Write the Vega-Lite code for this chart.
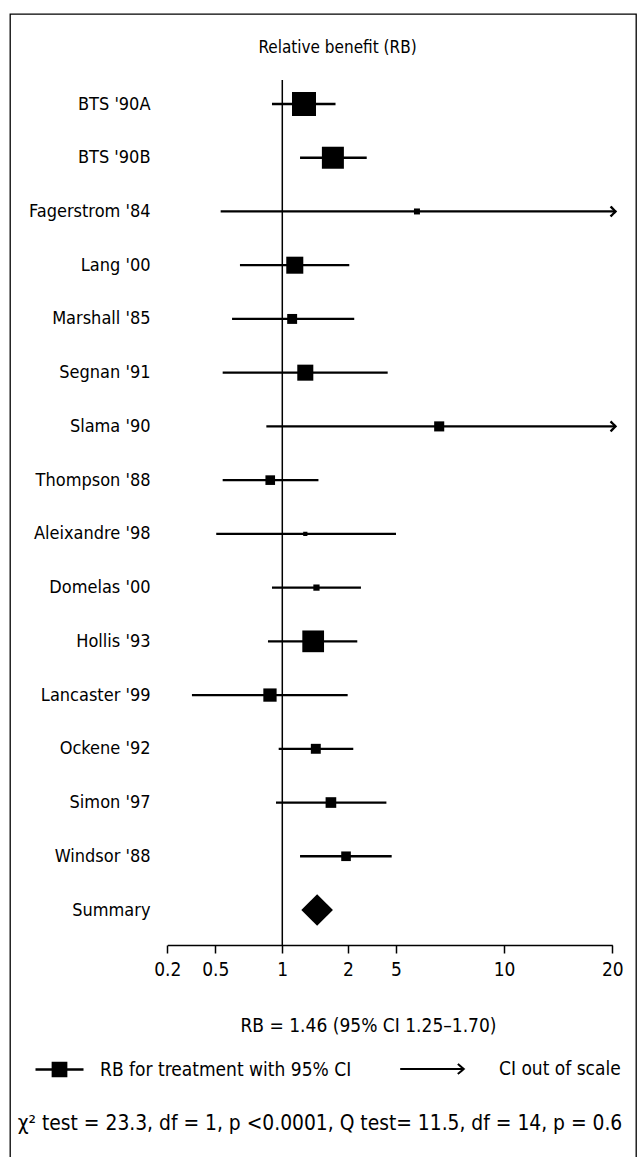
{
  "$schema": "https://vega.github.io/schema/vega-lite/v6.json",
  "width": 626,
  "height": 1144,
  "autosize": "none",
  "padding": {"left": 10, "top": 14, "right": 3, "bottom": -1},
  "background": "#ffffff",
  "config": {
    "font": "Liberation Sans Narrow, DejaVu Sans Condensed, sans-serif",
    "view": {"stroke": "#000000", "strokeWidth": 1.3},
    "axis": {"labelColor": "#000000", "titleColor": "#000000", "titleFontWeight": "normal", "grid": false},
    "legend": {"labelColor": "#000000", "labelLimit": 500}
  },
  "title": {
    "text": "χ² test = 23.3, df = 1, p <0.0001, Q test= 11.5, df = 14, p = 0.6",
    "orient": "bottom",
    "offset": -44,
    "fontSize": 20.8,
    "fontWeight": "normal",
    "color": "#000000",
    "anchor": "middle",
    "dx": -3
  },
  "datasets": {
    "studies": [
      {"study": "BTS '90A", "lo": 0.923, "rb": 1.33, "hi": 1.81, "weight": 19.3},
      {"study": "BTS '90B", "lo": 1.27, "rb": 1.77, "hi": 3.17, "weight": 16.2},
      {"study": "Fagerstrom '84", "lo": 0.54, "rb": 5.97, "hi": 20.3, "weight": 1.2},
      {"study": "Lang '00", "lo": 0.684, "rb": 1.19, "hi": 2.08, "weight": 9.7},
      {"study": "Marshall '85", "lo": 0.625, "rb": 1.15, "hi": 2.39, "weight": 3.3},
      {"study": "Segnan '91", "lo": 0.555, "rb": 1.35, "hi": 4.48, "weight": 8.6},
      {"study": "Slama '90", "lo": 0.881, "rb": 7.0, "hi": 20.3, "weight": 3.4},
      {"study": "Thompson '88", "lo": 0.555, "rb": 0.91, "hi": 1.55, "weight": 3.1},
      {"study": "Aleixandre '98", "lo": 0.507, "rb": 1.35, "hi": 5.0, "weight": 0.6},
      {"study": "Domelas '00", "lo": 0.923, "rb": 1.52, "hi": 2.81, "weight": 1.3},
      {"study": "Hollis '93", "lo": 0.893, "rb": 1.47, "hi": 2.58, "weight": 15.8},
      {"study": "Lancaster '99", "lo": 0.354, "rb": 0.908, "hi": 1.995, "weight": 5.9},
      {"study": "Ockene '92", "lo": 0.973, "rb": 1.51, "hi": 2.33, "weight": 3.3},
      {"study": "Simon '97", "lo": 0.953, "rb": 1.74, "hi": 4.4, "weight": 3.8},
      {"study": "Windsor '88", "lo": 1.27, "rb": 1.97, "hi": 4.73, "weight": 3.1}
    ],
    "summary": [
      {"study": "Summary", "rb": 1.53}
    ]
  },
  "layer": [
    {
      "data": {"name": "studies"},
      "mark": {"type": "rule", "color": "#000000", "strokeWidth": 2.3},
      "encoding": {
        "x": {
          "field": "lo",
          "type": "quantitative",
          "scale": {
            "type": "linear",
            "domain": [0.2, 0.5, 1, 2, 5, 10, 20],
            "range": [157.3, 205.3, 272.3, 338, 386, 494, 602.3],
            "zero": false,
            "nice": false
          },
          "axis": {
            "orient": "bottom",
            "offset": -213,
            "values": [0.2, 0.5, 1, 2, 5, 10, 20],
            "format": "~g",
            "domainColor": "#000000",
            "domainWidth": 1.5,
            "tickColor": "#000000",
            "tickWidth": 1.5,
            "tickSize": 8,
            "labelFontSize": 19,
            "labelPadding": 7,
            "labelFlush": false,
            "labelOverlap": false,
            "title": "RB = 1.46 (95% CI 1.25–1.70)",
            "titleFontSize": 19,
            "titleX": 358,
            "titleY": 80,
            "titleAlign": "center",
            "titleBaseline": "middle"
          }
        },
        "x2": {"field": "hi"},
        "y": {
          "field": "study",
          "type": "nominal",
          "sort": null,
          "scale": {
            "type": "point",
            "domain": ["BTS '90A", "BTS '90B", "Fagerstrom '84", "Lang '00", "Marshall '85", "Segnan '91", "Slama '90", "Thompson '88", "Aleixandre '98", "Domelas '00", "Hollis '93", "Lancaster '99", "Ockene '92", "Simon '97", "Windsor '88", "Summary"],
            "range": [90, 896],
            "padding": 0
          },
          "axis": {
            "orient": "left",
            "offset": -140,
            "domain": false,
            "ticks": false,
            "tickSize": 0,
            "labelPadding": 0,
            "labelFontSize": 18,
            "labelAlign": "right",
            "labelBaseline": "middle",
            "labelLimit": 300,
            "title": "Relative benefit (RB)",
            "titleAngle": 0,
            "titleX": 187,
            "titleY": 33,
            "titleAlign": "center",
            "titleBaseline": "middle",
            "titleFontSize": 17
          }
        }
      }
    },
    {
      "data": {"name": "summary"},
      "mark": {"type": "rule", "color": "#000000", "strokeWidth": 1.5, "yOffset": -24, "y2Offset": 35},
      "encoding": {
        "x": {"datum": 1, "type": "quantitative"},
        "y": {"datum": "BTS '90A", "type": "nominal"},
        "y2": {"datum": "Summary"}
      }
    },
    {
      "data": {"name": "studies"},
      "mark": {"type": "point", "shape": "square", "filled": true, "opacity": 1, "strokeWidth": 0},
      "encoding": {
        "x": {"field": "rb", "type": "quantitative"},
        "y": {"field": "study", "type": "nominal"},
        "size": {
          "field": "weight",
          "type": "quantitative",
          "scale": {"type": "linear", "domain": [0, 20], "range": [0, 597.6], "zero": true},
          "legend": null
        },
        "color": {
          "datum": "RB for treatment with 95% CI",
          "type": "nominal",
          "scale": {"range": ["#000000"]},
          "legend": {
            "orient": "none",
            "legendX": 24,
            "legendY": 1030,
            "title": null,
            "padding": 0,
            "symbolType": "M-1,0H1M-0.28,-0.28H0.28V0.28H-0.28Z",
            "symbolSize": 2304,
            "symbolStrokeWidth": 2.3,
            "symbolStrokeColor": "#000000",
            "symbolFillColor": "#000000",
            "labelFontSize": 19,
            "labelOffset": 15,
            "encode": {
              "symbols": {
                "shape": {"value": "M-1,0H1M-0.28,-0.28H0.28V0.28H-0.28Z"},
                "stroke": {"value": "#000000"},
                "strokeWidth": {"value": 2.3},
                "fill": {"value": "#000000"},
                "size": {"value": 2304},
                "opacity": {"value": 1}
              }
            }
          }
        }
      }
    },
    {
      "data": {"name": "studies"},
      "transform": [{"filter": "datum.hi > 20"}],
      "mark": {"type": "point", "shape": "M-1,-1L0,0L-1,1", "filled": false, "opacity": 1, "strokeWidth": 2.3, "size": 100, "color": "#000000"},
      "encoding": {
        "x": {"field": "hi", "type": "quantitative"},
        "y": {"field": "study", "type": "nominal"},
        "strokeDash": {
          "datum": "CI out of scale",
          "type": "nominal",
          "scale": {"range": [[1, 0]]},
          "legend": {
            "orient": "none",
            "legendX": 424,
            "legendY": 1030,
            "title": null,
            "padding": 0,
            "symbolType": "M-2.45,0H0.2M-0.05,-0.21L0.2,0L-0.05,0.21",
            "symbolSize": 2304,
            "symbolStrokeWidth": 2,
            "symbolStrokeColor": "#000000",
            "symbolFillColor": "transparent",
            "labelFontSize": 19,
            "labelOffset": 15,
            "encode": {
              "symbols": {
                "shape": {"value": "M-2.45,0H0.2M-0.05,-0.21L0.2,0L-0.05,0.21"},
                "stroke": {"value": "#000000"},
                "strokeWidth": {"value": 2},
                "fill": {"value": "transparent"},
                "size": {"value": 2304},
                "opacity": {"value": 1}
              }
            }
          }
        }
      }
    },
    {
      "data": {"name": "summary"},
      "mark": {"type": "point", "shape": "diamond", "filled": true, "opacity": 1, "size": 1000, "color": "#000000", "strokeWidth": 0},
      "encoding": {
        "x": {"field": "rb", "type": "quantitative"},
        "y": {"field": "study", "type": "nominal"}
      }
    }
  ]
}
